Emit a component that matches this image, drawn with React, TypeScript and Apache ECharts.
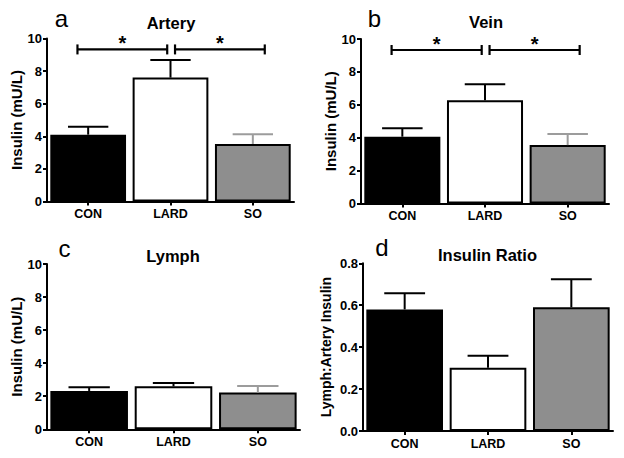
import React, { useEffect, useRef } from "react";
import * as echarts from "echarts";

const categories = ["CON", "LARD", "SO"];

const arteryMeans = [4.1, 7.6, 3.53];
const arteryErrors = [0.48, 1.08, 0.59];
const veinMeans = [4.06, 6.27, 3.55];
const veinErrors = [0.51, 0.98, 0.67];
const lymphMeans = [2.32, 2.6, 2.22];
const lymphErrors = [0.23, 0.2, 0.4];
const ratioMeans = [0.58, 0.302, 0.59];
const ratioErrors = [0.077, 0.057, 0.134];

// significance brackets: [from category, to category, level]
const arteryBrackets = [
  [0, 1, 9.33],
  [1, 2, 9.33],
];
const veinBrackets = [
  [0, 1, 9.33],
  [1, 2, 9.33],
];

const panelTitles = ["Artery", "Vein", "Lymph", "Insulin Ratio"];
const panelLetters = ["a", "b", "c", "d"];
const insulinAxisName = "Insulin (mU/L)";
const ratioAxisName = "Lymph:Artery Insulin";

const FONT = "'Liberation Sans', Arial, Helvetica, sans-serif";
const barFills = ["#000000", "#ffffff", "#8e8e8e"];
const errGrayColors = ["#000000", "#000000", "#9c9c9c"];
const errBlackColors = ["#000000", "#000000", "#000000"];

const grids = [
  { left: 47, top: 38.5, width: 247, height: 163 },
  { left: 361, top: 39, width: 248, height: 164.5 },
  { left: 47, top: 264, width: 253, height: 165.3 },
  { left: 363, top: 263.3, width: 250, height: 167.7 },
];

const panels = [
  { means: arteryMeans, errors: arteryErrors, brackets: arteryBrackets, errColors: errGrayColors, ratio: false },
  { means: veinMeans, errors: veinErrors, brackets: veinBrackets, errColors: errGrayColors, ratio: false },
  { means: lymphMeans, errors: lymphErrors, brackets: [], errColors: errGrayColors, ratio: false },
  { means: ratioMeans, errors: ratioErrors, brackets: [], errColors: errBlackColors, ratio: true },
];

const titlePos = [
  { x: 171, y: 22.7 },
  { x: 486, y: 22.4 },
  { x: 173, y: 256 },
  { x: 487.5, y: 255 },
];
const letterPos = [
  { x: 61.5, y: 18.6 },
  { x: 374.5, y: 18.6 },
  { x: 64.5, y: 248.6 },
  { x: 382, y: 247 },
];

function buildOption() {
  const xAxis: any[] = [];
  const yAxis: any[] = [];
  const series: any[] = [];

  panels.forEach((p, i) => {
    xAxis.push({
      type: "category",
      gridIndex: i,
      data: categories,
      axisLine: { show: true, lineStyle: { color: "#000", width: 2 } },
      axisTick: { show: true, alignWithLabel: true, length: 4, lineStyle: { color: "#000", width: 2 } },
      axisLabel: { color: "#000", fontWeight: "bold", fontSize: 12.5, fontFamily: FONT, margin: 6 },
      splitLine: { show: false },
    });
    yAxis.push({
      type: "value",
      gridIndex: i,
      min: 0,
      max: p.ratio ? 0.8 : 10,
      interval: p.ratio ? 0.2 : 2,
      name: p.ratio ? ratioAxisName : insulinAxisName,
      nameLocation: "middle",
      nameRotate: 90,
      nameGap: p.ratio ? 30 : 20.5,
      nameTextStyle: { color: "#000", fontWeight: "bold", fontSize: p.ratio ? 14 : 15, fontFamily: FONT },
      axisLine: { show: true, lineStyle: { color: "#000", width: 2 } },
      axisTick: { show: true, length: 4, lineStyle: { color: "#000", width: 2 } },
      axisLabel: {
        color: "#000",
        fontWeight: "bold",
        fontSize: 13,
        fontFamily: FONT,
        margin: 5,
        formatter: (v: number) => (p.ratio ? v.toFixed(1) : String(v)),
      },
      splitLine: { show: false },
    });

    series.push({
      type: "bar",
      xAxisIndex: i,
      yAxisIndex: i,
      barCategoryGap: "8%",
      z: 2,
      data: p.means.map((v, j) => ({ value: v, itemStyle: { color: barFills[j] } })),
      itemStyle: { borderColor: "#000", borderWidth: 2 },
    });

    const errColors = p.errColors;
    series.push({
      type: "custom",
      xAxisIndex: i,
      yAxisIndex: i,
      z: 3,
      encode: { x: 0, y: 1 },
      data: p.means.map((v, j) => [j, v, v + p.errors[j]]),
      renderItem: (params: any, api: any) => {
        const j = api.value(0);
        const top = api.coord([j, api.value(1)]);
        const cap = api.coord([j, api.value(2)]);
        const band = api.size([1, 0])[0];
        const half = band * 0.245;
        const color = errColors[params.dataIndex];
        return {
          type: "group",
          children: [
            { type: "line", shape: { x1: top[0], y1: top[1], x2: cap[0], y2: cap[1] }, style: { stroke: color, lineWidth: 2 } },
            { type: "line", shape: { x1: cap[0] - half, y1: cap[1], x2: cap[0] + half, y2: cap[1] }, style: { stroke: color, lineWidth: 2 } },
          ],
        };
      },
    });

    if (p.brackets.length) {
      series.push({
        type: "custom",
        xAxisIndex: i,
        yAxisIndex: i,
        z: 4,
        encode: { x: 0, y: 2 },
        data: p.brackets,
        renderItem: (params: any, api: any) => {
          const lvl = api.value(2);
          const p0 = api.coord([api.value(0), lvl]);
          const p1 = api.coord([api.value(1), lvl]);
          const band = api.size([1, 0])[0];
          const offs = params.dataIndex === 0 ? [-0.13, -0.04] : [0.055, 0.145];
          const x0 = p0[0] + offs[0] * band;
          const x1 = p1[0] + offs[1] * band;
          const y = p0[1];
          const st = { stroke: "#000", lineWidth: 2.2 };
          return {
            type: "group",
            children: [
              { type: "line", shape: { x1: x0, y1: y, x2: x1, y2: y }, style: st },
              { type: "line", shape: { x1: x0, y1: y - 5, x2: x0, y2: y + 5 }, style: st },
              { type: "line", shape: { x1: x1, y1: y - 5, x2: x1, y2: y + 5 }, style: st },
              {
                type: "text",
                x: (x0 + x1) / 2,
                y: y - 6,
                style: {
                  text: "*",
                  fill: "#000",
                  font: `bold 20px ${FONT}`,
                  textAlign: "center",
                  textVerticalAlign: "middle",
                },
              },
            ],
          };
        },
      });
    }
  });

  const graphic: any[] = [];
  panelTitles.forEach((t, i) => {
    graphic.push({
      type: "text",
      x: titlePos[i].x,
      y: titlePos[i].y,
      style: { text: t, fill: "#000", font: `bold 16.5px ${FONT}`, textAlign: "center", textVerticalAlign: "middle" },
    });
  });
  panelLetters.forEach((t, i) => {
    graphic.push({
      type: "text",
      x: letterPos[i].x,
      y: letterPos[i].y,
      style: { text: t, fill: "#000", font: `24px ${FONT}`, textAlign: "center", textVerticalAlign: "middle" },
    });
  });

  return {
    animation: false,
    backgroundColor: "#fff",
    textStyle: { fontFamily: FONT },
    grid: grids.map((g) => ({ ...g, containLabel: false })),
    xAxis,
    yAxis,
    series,
    graphic,
  };
}

export default function App() {
  const ref = useRef<HTMLDivElement>(null);
  useEffect(() => {
    if (!ref.current) return;
    const chart = echarts.init(ref.current, undefined, { renderer: "svg" });
    chart.setOption(buildOption());
    return () => chart.dispose();
  }, []);
  return (
    <div
      ref={ref}
      style={{ position: "fixed", left: 0, top: 0, width: 624, height: 458, background: "#fff" }}
    />
  );
}
